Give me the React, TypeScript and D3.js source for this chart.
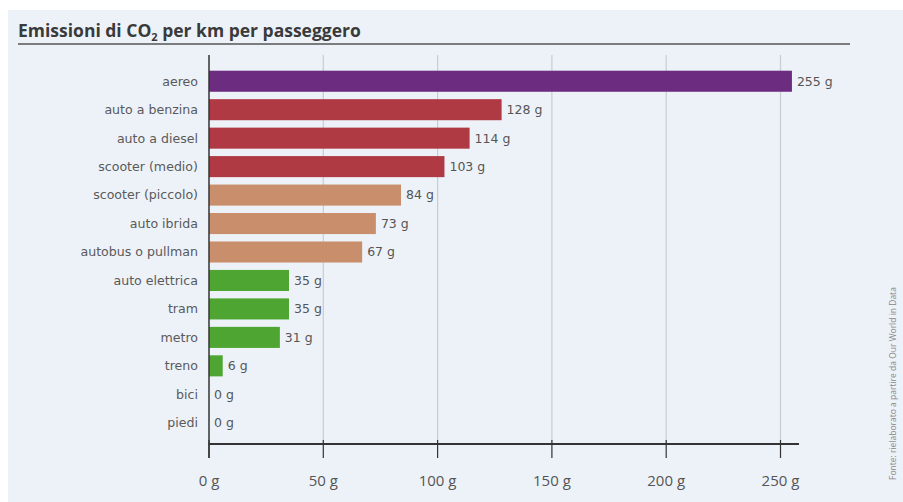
import React from "react";
import * as d3 from "d3";

const categories = ["aereo","auto a benzina","auto a diesel","scooter (medio)","scooter (piccolo)","auto ibrida","autobus o pullman","auto elettrica","tram","metro","treno","bici","piedi"];
const values = [255,128,114,103,84,73,67,35,35,31,6,0,0];
const groups = ["air","car","car","car","mid","mid","mid","low","low","low","low","low","low"];
const xTicks = [0,50,100,150,200,250];
const colorMap: Record<string,string> = { air:"#6c2c80", car:"#b03a44", mid:"#c98f6c", low:"#4fa531" };

const W = 903, H = 502;
const x0 = 209, x1 = 780.5;
const font = "'Open Sans', 'DejaVu Sans', sans-serif";
const font2 = "'DejaVu Sans', sans-serif";

export default function App() {
  const x = d3.scaleLinear().domain([0,250]).range([x0,x1]);
  const y = d3.scaleBand().domain(categories).range([67,437]).paddingInner(0.26).paddingOuter(0.13);
  const axisY = 444;
  return (
    <svg width={W} height={H} style={{position:"absolute",left:0,top:0}}>
      <rect x={8} y={10} width={W-8} height={H-10} fill="#edf2f9"/>
      <text x={18} y={37} fontFamily={font} fontSize={17.5} fontWeight={700} fill="#3a3a3a">
        Emissioni di CO<tspan fontSize={11} dy={4}>2</tspan><tspan dy={-4}> per km per passeggero</tspan>
      </text>
      <line x1={18} x2={850} y1={44} y2={44} stroke="#555" strokeWidth={1.5}/>
      {xTicks.slice(1).map(t => (
        <line key={"g"+t} x1={x(t)} x2={x(t)} y1={55} y2={axisY} stroke="#c9ccd2" strokeWidth={1.2}/>
      ))}
      {categories.map((c,i) => (
        <g key={c}>
          <rect x={x(0)} y={y(c)!} width={x(values[i])-x(0)} height={y.bandwidth()} fill={colorMap[groups[i]]}/>
          <text x={x0-11} y={y(c)!+y.bandwidth()/2} dy="0.35em" textAnchor="end" fontFamily={font2} fontSize={12.6} fill="#5a5a5a">{c}</text>
          <text x={x(values[i])+5} y={y(c)!+y.bandwidth()/2} dy="0.35em" fontFamily={font2} fontSize={12.5} fill="#555">{values[i]} g</text>
        </g>
      ))}
      <line x1={x0} x2={x0} y1={55} y2={458} stroke="#333" strokeWidth={1.5}/>
      <line x1={x0} x2={799} y1={axisY} y2={axisY} stroke="#333" strokeWidth={1.8}/>
      {xTicks.map(t => (
        <g key={"t"+t}>
          <line x1={x(t)} x2={x(t)} y1={axisY-4} y2={458} stroke="#333" strokeWidth={1.2}/>
          <text x={x(t)} y={486} textAnchor="middle" fontFamily={font} fontSize={15} fill="#555">{t} g</text>
        </g>
      ))}
      <text transform={`translate(896,480) rotate(-90)`} fontFamily={font} fontSize={8.5} fill="#888">Fonte: rielaborato a partire da Our World in Data</text>
    </svg>
  );
}
